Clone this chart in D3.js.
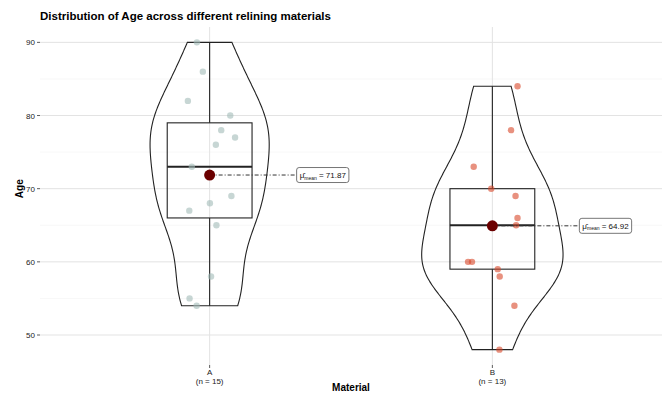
<!DOCTYPE html>
<html lang="en">
<head>
<meta charset="utf-8">
<title>Distribution of Age across different relining materials</title>
<script src="https://d3js.org/d3.v7.min.js"></script>
<style>
  body { margin: 0; background: #fff; }
  text { font-family: "Liberation Sans", Arial, sans-serif; }
</style>
</head>
<body>
<svg id="chart" width="667" height="394"></svg>
<script>
// data
var materials = ["A", "B"];
var ageA = [90, 86, 82, 80, 78, 77, 76, 73, 69, 68, 67, 65, 58, 55, 54];
var jitterA = [-0.045, -0.024, -0.077, 0.073, 0.041, 0.090, 0.022, -0.063, 0.077, 0.001, -0.072, 0.024, 0.005, -0.071, -0.046];
var ageB = [84, 78, 73, 70, 69, 66, 65, 60, 60, 59, 58, 54, 48];
var jitterB = [0.089, 0.066, -0.066, -0.004, 0.082, 0.089, 0.084, -0.086, -0.072, 0.019, 0.026, 0.078, 0.025];
var yTicks = [50, 60, 70, 80, 90];
var yMinor = [55, 65, 75, 85];

var groups = [
  {name: "A", ages: ageA, jitter: jitterA, color: "rgb(162,187,183)"},
  {name: "B", ages: ageB, jitter: jitterB, color: "rgb(216,72,42)"}
];

var svg = d3.select("#chart");
var pLeft = 40, pRight = 662, pTop = 27, pBottom = 365;

var x = d3.scaleLinear().domain([0.4, 2.6]).range([pLeft, pRight]);
var y = d3.scaleLinear().domain([45.9, 92.1]).range([pBottom, pTop]);

// grid
var grid = svg.append("g");
grid.selectAll(".minor").data(yMinor).enter().append("line")
  .attr("x1", pLeft).attr("x2", pRight)
  .attr("y1", d => y(d)).attr("y2", d => y(d))
  .attr("stroke", "#f2f2f2").attr("stroke-width", 0.6);
grid.selectAll(".major").data(yTicks).enter().append("line")
  .attr("x1", pLeft).attr("x2", pRight)
  .attr("y1", d => y(d)).attr("y2", d => y(d))
  .attr("stroke", "#e3e3e3").attr("stroke-width", 1);
grid.selectAll(".vx").data(materials).enter().append("line")
  .attr("x1", (d, i) => x(i + 1)).attr("x2", (d, i) => x(i + 1))
  .attr("y1", pTop).attr("y2", pBottom)
  .attr("stroke", "#e3e3e3").attr("stroke-width", 1);

// kernel density (gaussian, nrd0 bandwidth, trimmed like ggplot)
function bwNrd0(v) {
  var s = d3.deviation(v);
  var sorted = v.slice().sort(d3.ascending);
  var iqr = d3.quantile(sorted, 0.75) - d3.quantile(sorted, 0.25);
  var lo = Math.min(s, iqr / 1.34);
  return 0.9 * lo * Math.pow(v.length, -0.2);
}
function kde(v) {
  var bw = bwNrd0(v);
  var lo = d3.min(v), hi = d3.max(v);
  var pts = d3.range(0, 512).map(i => lo + (hi - lo) * i / 511);
  return pts.map(function (p) {
    var s = d3.sum(v, d => Math.exp(-0.5 * Math.pow((p - d) / bw, 2)));
    return [p, s / (v.length * bw * Math.sqrt(2 * Math.PI))];
  });
}
groups.forEach(g => { g.dens = kde(g.ages); });
var maxDens = d3.max(groups, g => d3.max(g.dens, d => d[1]));
var w = d3.scaleLinear().domain([0, maxDens]).range([0, 0.25]);

groups.forEach(function (g, i) {
  var cx = i + 1;
  var pathPts = g.dens.map(d => [cx + w(d[1]), d[0]])
    .concat(g.dens.slice().reverse().map(d => [cx - w(d[1]), d[0]]));
  var line = d3.line().x(d => x(d[0])).y(d => y(d[1]));
  svg.append("path")
    .attr("d", line(pathPts) + "Z")
    .attr("fill", "none")
    .attr("stroke", "#222")
    .attr("stroke-width", 1.1);

  // box plot
  var s = g.ages.slice().sort(d3.ascending);
  var q1 = d3.quantile(s, 0.25), med = d3.quantile(s, 0.5), q3 = d3.quantile(s, 0.75);
  var iqr = q3 - q1;
  var wLo = d3.min(s.filter(d => d >= q1 - 1.5 * iqr));
  var wHi = d3.max(s.filter(d => d <= q3 + 1.5 * iqr));
  var bg = svg.append("g").attr("stroke", "#222").attr("fill", "none");
  bg.append("line").attr("x1", x(cx)).attr("x2", x(cx)).attr("y1", y(wHi)).attr("y2", y(q3)).attr("stroke-width", 1.1);
  bg.append("line").attr("x1", x(cx)).attr("x2", x(cx)).attr("y1", y(q1)).attr("y2", y(wLo)).attr("stroke-width", 1.1);
  bg.append("rect")
    .attr("x", x(cx - 0.15)).attr("width", x(cx + 0.15) - x(cx - 0.15))
    .attr("y", y(q3)).attr("height", y(q1) - y(q3))
    .attr("stroke-width", 1.1);
  bg.append("line").attr("x1", x(cx - 0.15)).attr("x2", x(cx + 0.15))
    .attr("y1", y(med)).attr("y2", y(med)).attr("stroke-width", 2.2);

  // jittered points
  svg.append("g").selectAll("circle").data(g.ages).enter().append("circle")
    .attr("cx", (d, j) => x(cx + g.jitter[j]))
    .attr("cy", d => y(d))
    .attr("r", 3.2)
    .attr("fill", g.color)
    .attr("fill-opacity", 0.6);

  // mean
  var m = d3.mean(g.ages);
  var lx = x(cx) + 87;
  svg.append("line")
    .attr("x1", x(cx)).attr("x2", lx)
    .attr("y1", y(m)).attr("y2", y(m))
    .attr("stroke", "#333").attr("stroke-width", 1)
    .attr("stroke-dasharray", "4,2,1,2");
  svg.append("circle")
    .attr("cx", x(cx)).attr("cy", y(m)).attr("r", 5.5)
    .attr("fill", "#6b0000");

  var lbl = svg.append("g");
  var rect = lbl.append("rect")
    .attr("x", lx).attr("y", y(m) - 7.5)
    .attr("width", 52).attr("height", 15)
    .attr("rx", 2.5)
    .attr("fill", "#fff").attr("stroke", "#666").attr("stroke-width", 0.9);
  var t = lbl.append("text")
    .attr("x", lx + 3).attr("y", y(m) + 3)
    .attr("font-size", 8).attr("fill", "#111");
  t.append("tspan").text("\u03bc\u0302");
  t.append("tspan").attr("font-size", 5).attr("dy", 1.5).text("mean");
  t.append("tspan").attr("dy", -1.5).text(" = " + m.toFixed(2));
  var tw = t.node().getComputedTextLength();
  rect.attr("width", tw + 6);
});

// y axis
var yAxis = svg.append("g");
yAxis.selectAll("line").data(yTicks).enter().append("line")
  .attr("x1", pLeft - 3).attr("x2", pLeft)
  .attr("y1", d => y(d)).attr("y2", d => y(d))
  .attr("stroke", "#333").attr("stroke-width", 0.8);
yAxis.selectAll("text").data(yTicks).enter().append("text")
  .attr("x", pLeft - 5).attr("y", d => y(d) + 3)
  .attr("text-anchor", "end").attr("font-size", 8).attr("fill", "#222")
  .text(d => d);

// x axis
var counts = groups.map(g => g.ages.length);
var xAxis = svg.append("g");
xAxis.selectAll("line").data(materials).enter().append("line")
  .attr("x1", (d, i) => x(i + 1)).attr("x2", (d, i) => x(i + 1))
  .attr("y1", pBottom).attr("y2", pBottom + 3)
  .attr("stroke", "#333").attr("stroke-width", 0.8);
xAxis.selectAll(".cat").data(materials).enter().append("text")
  .attr("x", (d, i) => x(i + 1)).attr("y", pBottom + 10)
  .attr("text-anchor", "middle").attr("font-size", 8).attr("fill", "#222")
  .text(d => d);
xAxis.selectAll(".n").data(materials).enter().append("text")
  .attr("x", (d, i) => x(i + 1)).attr("y", pBottom + 19)
  .attr("text-anchor", "middle").attr("font-size", 8).attr("fill", "#222")
  .text((d, i) => "(n = " + counts[i] + ")");

svg.append("text")
  .attr("x", (pLeft + pRight) / 2).attr("y", 391)
  .attr("text-anchor", "middle").attr("font-size", 10).attr("font-weight", "bold")
  .text("Material");
svg.append("text")
  .attr("transform", "translate(23," + y(70) + ") rotate(-90)")
  .attr("text-anchor", "middle").attr("font-size", 10).attr("font-weight", "bold")
  .text("Age");

svg.append("text")
  .attr("x", 40).attr("y", 20)
  .attr("font-size", 11.5).attr("font-weight", "bold")
  .text("Distribution of Age across different relining materials");
</script>
</body>
</html>
